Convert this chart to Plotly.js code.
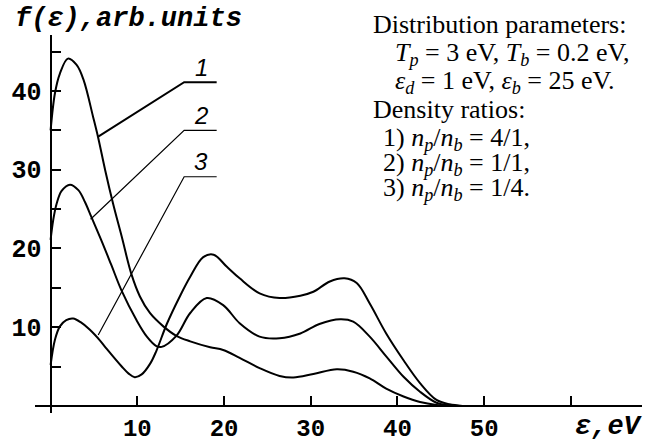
<!DOCTYPE html>
<html>
<head>
<meta charset="utf-8">
<script src="https://cdn.plot.ly/plotly-3.0.1.min.js"></script>
<style>html,body{margin:0;padding:0;background:#fff;}#chart{width:655px;height:439px;}</style>
</head>
<body>
<div id="chart"></div>
<script>
// ---- data ----
const x1 = [0, 0.5, 1.07, 2.0, 3.0, 3.8, 4.9, 5.5, 6.3, 7.2, 8.2, 9.3, 10.3, 11.45, 13.0, 14.5, 16.1, 18.4, 19.9, 21.8, 24.1, 26.4, 28.0, 30.3, 33.0, 34.9, 36.8, 38.7, 40.7, 42.6, 44.5, 46.0, 47.5];
const y1 = [35.0, 39.7, 42.2, 44.1, 43.3, 41.4, 36.7, 34.0, 29.9, 25.7, 21.5, 16.8, 13.9, 11.8, 10.1, 8.9, 8.2, 7.45, 7.1, 6.1, 4.8, 3.8, 3.6, 4.05, 4.65, 4.35, 3.5, 2.2, 1.2, 0.5, 0.13, 0.02, 0];

const x2 = [0, 0.3, 0.7, 1.27, 2.23, 3.2, 3.96, 4.7, 5.9, 7.0, 8.2, 9.9, 11.1, 12.2, 12.8, 14.5, 16.1, 18.0, 19.9, 21.8, 24.1, 26.4, 28.8, 31.0, 33.4, 34.9, 36.8, 38.7, 40.7, 42.6, 44.5, 46.0, 47.5];
const y2 = [21.1, 23.6, 25.7, 27.3, 28.1, 27.4, 25.9, 24.0, 20.9, 17.9, 14.6, 10.9, 8.8, 7.6, 7.5, 8.9, 11.8, 13.7, 12.8, 10.5, 8.8, 8.6, 9.2, 10.4, 11.0, 10.7, 8.8, 6.3, 3.7, 1.8, 0.4, 0.05, 0];

const x3 = [0, 0.5, 1.07, 1.8, 2.6, 3.5, 4.5, 5.7, 6.5, 8.2, 9.0, 9.7, 10.5, 11.5, 12.2, 13.4, 14.9, 16.1, 17.6, 18.8, 20.3, 21.8, 24.1, 26.4, 28.8, 30.3, 32.2, 33.9, 35.3, 36.8, 38.7, 40.7, 42.6, 44.5, 46.0, 47.5];
const y3 = [5.2, 8.4, 10.1, 10.9, 11.1, 10.6, 9.7, 8.3, 7.2, 5.0, 4.1, 3.65, 4.0, 5.4, 7.0, 10.4, 13.9, 16.4, 18.9, 19.2, 17.7, 16.2, 14.3, 13.7, 14.0, 14.5, 15.8, 16.2, 15.6, 13.0, 9.2, 5.8, 2.9, 0.76, 0.2, 0];

const xTickVals = [10, 20, 30, 40, 50, 60];
const xTickText = ['10', '20', '30', '40', '50', ''];
const yTickVals = [5, 10, 15, 20, 25, 30, 35, 40, 45];
const yTickText = ['', '10', '', '20', '', '30', '', '40', ''];

const curveLabels = ['1', '2', '3'];
// leader lines: [curve point, elbow, end] in data units
const leaderX = [[5.49, 15.4, 19.15], [4.61, 15.4, 19.15], [5.49, 15.4, 19.15]];
const leaderY = [[34.2, 41.1, 41.1], [23.7, 35.0, 35.0], [9.0, 29.1, 29.1]];
const leaderW = [2, 1.2, 1.2];

const infoLines = [
  'Distribution parameters:',
  '<i>T</i><sub><i>p</i></sub> = 3 eV, <i>T</i><sub><i>b</i></sub> = 0.2 eV,',
  '<i>ε</i><sub><i>d</i></sub> = 1 eV, <i>ε</i><sub><i>b</i></sub> = 25 eV.',
  'Density ratios:',
  '1) <i>n</i><sub><i>p</i></sub>/<i>n</i><sub><i>b</i></sub> = 4/1,',
  '2) <i>n</i><sub><i>p</i></sub>/<i>n</i><sub><i>b</i></sub> = 1/1,',
  '3) <i>n</i><sub><i>p</i></sub>/<i>n</i><sub><i>b</i></sub> = 1/4.'
];
const infoLeftPx = [371, 393, 393, 371, 381, 381, 381];
const infoMidPx = [25, 54, 82, 110, 139, 164, 189];

// ---- layout helpers (pixel -> paper) ----
const M = {l: 35, r: 13, t: 35, b: 26};
const W = 655, H = 439;
const pw = W - M.l - M.r, ph = H - M.t - M.b;
const px = v => (v - M.l) / pw;
const py = v => (H - M.b - v) / ph;

const xr = [-1.8, 68.2], yr = [-0.9, 47.1];

const traces = [[x1, y1], [x2, y2], [x3, y3]].map(([x, y]) => ({
  x: x, y: y, type: 'scatter', mode: 'lines',
  line: {color: '#000', width: 2, shape: 'spline', smoothing: 1},
  hoverinfo: 'none', showlegend: false
}));

const shapes = leaderX.map((lx, i) => ({
  type: 'path', xref: 'x', yref: 'y',
  path: 'M' + lx[0] + ',' + leaderY[i][0] + ' L' + lx[1] + ',' + leaderY[i][1] + ' L' + lx[2] + ',' + leaderY[i][2],
  line: {color: '#000', width: leaderW[i]}
}));

const annotations = [];
curveLabels.forEach((t, i) => {
  annotations.push({
    text: t, xref: 'x', yref: 'y', x: (leaderX[i][1] + leaderX[i][2]) / 2 + 0.1, y: leaderY[i][1] + 1.9,
    showarrow: false, font: {family: 'Liberation Sans', size: 24, style: 'italic', color: '#000'}
  });
});
infoLines.forEach((t, i) => {
  annotations.push({
    text: t, xref: 'paper', yref: 'paper', x: px(infoLeftPx[i]), y: py(infoMidPx[i]),
    xanchor: 'left', yanchor: 'middle', showarrow: false,
    font: {family: 'Liberation Serif', size: 26, color: '#000'}
  });
});
annotations.push({
  text: 'f(ε),arb.units', xref: 'paper', yref: 'paper', x: px(13), y: py(19),
  xanchor: 'left', yanchor: 'middle', showarrow: false,
  font: {family: 'Liberation Mono', size: 27, weight: 'bold', style: 'italic', color: '#000'}
});
annotations.push({
  text: 'ε,eV', xref: 'paper', yref: 'paper', x: px(609), y: py(427),
  xanchor: 'center', yanchor: 'middle', showarrow: false,
  font: {family: 'Liberation Mono', size: 27, weight: 'bold', style: 'italic', color: '#000'}
});

const layout = {
  width: W, height: H, margin: M,
  paper_bgcolor: '#fff', plot_bgcolor: '#fff',
  showlegend: false,
  xaxis: {
    range: xr, anchor: 'free', position: (0 - yr[0]) / (yr[1] - yr[0]),
    showline: true, linecolor: '#000', linewidth: 2,
    ticks: 'inside', ticklen: 9, tickwidth: 2, tickcolor: '#000',
    tickmode: 'array', tickvals: xTickVals, ticktext: xTickText,
    tickfont: {family: 'Liberation Mono', size: 24, weight: 'bold', color: '#000'},
    showgrid: false, zeroline: false, fixedrange: true
  },
  yaxis: {
    range: yr, anchor: 'free', position: (0 - xr[0]) / (xr[1] - xr[0]),
    showline: true, linecolor: '#000', linewidth: 2,
    ticks: 'inside', ticklen: 9, tickwidth: 2, tickcolor: '#000',
    tickmode: 'array', tickvals: yTickVals, ticktext: yTickText, ticklabelstandoff: 3,
    tickfont: {family: 'Liberation Mono', size: 25, weight: 'bold', color: '#000'},
    showgrid: false, zeroline: false, fixedrange: true
  },
  shapes: shapes,
  annotations: annotations
};

Plotly.newPlot('chart', traces, layout, {staticPlot: true, displayModeBar: false});
</script>
</body>
</html>
